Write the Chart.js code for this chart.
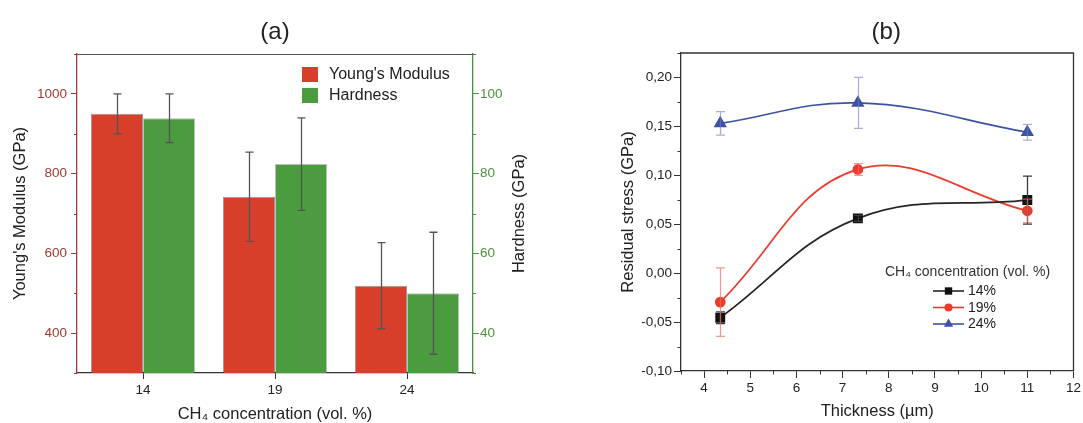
<!DOCTYPE html>
<html>
<head>
<meta charset="utf-8">
<script src="https://cdn.jsdelivr.net/npm/chart.js@4.4.1/dist/chart.umd.min.js"></script>
<style>
  html, body { margin: 0; padding: 0; background: #fff; }
  #wrap { position: relative; width: 1083px; height: 423px; overflow: hidden; }
  #ca { position: absolute; left: 0; top: 0; }
  #cb { position: absolute; left: 560px; top: 0; }
</style>
</head>
<body>
<div id="wrap">
  <canvas id="ca" width="545" height="423"></canvas>
  <canvas id="cb" width="523" height="423"></canvas>
</div>
<script>
// ---- panel (a): mechanical properties vs CH4 concentration
const concLabels = ['14', '19', '24'];
const youngs = [950, 742, 519];
const youngsErr = [50, 112, 108];
const hardness = [93.9, 82.4, 50.0];
const hardnessErr = [6.1, 11.6, 15.3];

// ---- panel (b): residual stress vs thickness
const thickness = [4.35, 7.33, 11.0];
const stress14 = [-0.0455, 0.056, 0.0747];
const stress14Err = [0.006, 0.003, 0.0245];
const stress19 = [-0.0296, 0.106, 0.0637];
const stress19Err = [0.035, 0.006, 0.012];
const stress24 = [0.153, 0.174, 0.144];
const stress24Err = [0.012, 0.026, 0.008];

const FONT = "'Liberation Sans', Arial, sans-serif";
Chart.defaults.font.family = FONT;

const RED = '#d83f2b', GREEN = '#4a9c3e';
const AXIS_RED = '#a23b33', AXIS_GREEN = '#4f8e3f';

// error bars drawn on top of bars / points
const errorBars = {
  id: 'errorBars',
  afterDatasetsDraw(chart) {
    const ctx = chart.ctx;
    chart.data.datasets.forEach((ds, i) => {
      if (!ds.errors) return;
      const meta = chart.getDatasetMeta(i);
      const ys = chart.scales[meta.yAxisID];
      ctx.save();
      ctx.strokeStyle = ds.errorColor;
      ctx.lineWidth = ds.errorWidth || 1.3;
      meta.data.forEach((el, j) => {
        const d = ds.data[j];
        const v = typeof d === 'object' ? d.y : d;
        const top = ys.getPixelForValue(v + ds.errors[j]);
        const bot = ys.getPixelForValue(v - ds.errors[j]);
        const x = Math.round(el.x) + 0.5;
        const c = ds.capWidth / 2;
        ctx.beginPath();
        ctx.moveTo(x, top); ctx.lineTo(x, bot);
        ctx.moveTo(x - c, top); ctx.lineTo(x + c, top);
        ctx.moveTo(x - c, bot); ctx.lineTo(x + c, bot);
        ctx.stroke();
      });
      ctx.restore();
    });
  }
};

function drawMinorTicks(chart, id, isMajor, len, color) {
  const s = chart.scales[id];
  const a = chart.chartArea;
  const ctx = chart.ctx;
  ctx.save();
  ctx.strokeStyle = color;
  ctx.lineWidth = 1;
  ctx.beginPath();
  s.ticks.forEach(t => {
    if (isMajor(t.value)) return;
    const p = Math.round(s.getPixelForValue(t.value)) + 0.5;
    if (s.position === 'left') { ctx.moveTo(a.left - len, p); ctx.lineTo(a.left, p); }
    else if (s.position === 'right') { ctx.moveTo(a.right, p); ctx.lineTo(a.right + len, p); }
    else { ctx.moveTo(p, a.bottom); ctx.lineTo(p, a.bottom + len); }
  });
  ctx.stroke();
  ctx.restore();
}

const majA = v => v % 200 === 0;
const majA2 = v => v % 20 === 0;
const majBy = v => Math.round(v * 1000) % 50 === 0;
const majBx = v => Math.abs(v - Math.round(v)) < 1e-6;

// ---------- chart (a)
const panelA = {
  id: 'panelA',
  afterDraw(chart) {
    const ctx = chart.ctx, a = chart.chartArea;
    ctx.save();
    // top frame line
    ctx.strokeStyle = '#555'; ctx.lineWidth = 1;
    ctx.beginPath(); ctx.moveTo(a.left, a.top + 0.5); ctx.lineTo(a.right, a.top + 0.5); ctx.stroke();
    drawMinorTicks(chart, 'y', majA, 3, AXIS_RED);
    drawMinorTicks(chart, 'y2', majA2, 3, AXIS_GREEN);
    // panel label
    ctx.fillStyle = '#222';
    ctx.font = '24px ' + FONT;
    ctx.textAlign = 'center'; ctx.textBaseline = 'middle';
    ctx.fillText('(a)', (a.left + a.right) / 2, 32);
    // right axis title, reading bottom to top
    ctx.save();
    ctx.translate(a.right + 46, (a.top + a.bottom) / 2);
    ctx.rotate(-Math.PI / 2);
    ctx.font = '16.5px ' + FONT;
    ctx.fillText('Hardness (GPa)', 0, 0);
    ctx.restore();
    // legend
    const lx = a.left + 225, ly = a.top + 13;
    ctx.font = '16px ' + FONT;
    ctx.textAlign = 'left';
    chart.data.datasets.forEach((ds, i) => {
      const y = ly + i * 21;
      ctx.fillStyle = ds.backgroundColor;
      ctx.fillRect(lx, y, 16, 15);
      ctx.fillStyle = '#222';
      ctx.fillText(ds.label, lx + 27, y + 8);
    });
    ctx.restore();
  }
};

new Chart(document.getElementById('ca'), {
  type: 'bar',
  data: {
    labels: concLabels,
    datasets: [
      { label: "Young's Modulus", data: youngs, errors: youngsErr, errorColor: '#555', capWidth: 8,
        yAxisID: 'y', backgroundColor: RED, borderColor: 'rgba(70,70,70,0.55)', borderWidth: 1,
        categoryPercentage: 0.79, barPercentage: 1 },
      { label: 'Hardness', data: hardness, errors: hardnessErr, errorColor: '#555', capWidth: 8,
        yAxisID: 'y2', backgroundColor: GREEN, borderColor: 'rgba(70,70,70,0.35)', borderWidth: 1,
        categoryPercentage: 0.79, barPercentage: 1 }
    ]
  },
  options: {
    responsive: false,
    animation: false,
    layout: { padding: { top: 54, left: 0, right: 0, bottom: 0 } },
    plugins: { legend: { display: false }, tooltip: { enabled: false } },
    scales: {
      x: {
        offset: true,
        grid: { offset: false, drawOnChartArea: false, tickLength: 6, tickColor: '#333' },
        border: { color: '#333', width: 1.3 },
        ticks: { color: '#222', font: { size: 13.5 }, padding: 3 },
        title: { display: true, text: 'CH\u2084 concentration (vol. %)', color: '#222',
                 font: { size: 16.5, lineHeight: 1 }, padding: { top: 0, bottom: 0 } },
        afterFit: s => { s.height = 50; }
      },
      y: {
        position: 'left', min: 300, max: 1100,
        grid: { drawOnChartArea: false, tickLength: 6,
                tickColor: c => majA(c.tick.value) ? AXIS_RED : 'rgba(0,0,0,0)' },
        border: { color: AXIS_RED, width: 1.3 },
        ticks: { stepSize: 100, autoSkip: false, color: AXIS_RED, font: { size: 13.5 }, padding: 4,
                 callback: v => majA(v) ? String(v) : '' },
        title: { display: true, text: "Young's Modulus (GPa)", color: '#222',
                 font: { size: 16.5, lineHeight: 1 }, padding: { top: 12, bottom: 0 } },
        afterFit: s => { s.width = 77; }
      },
      y2: {
        position: 'right', min: 30, max: 110,
        grid: { drawOnChartArea: false, tickLength: 6,
                tickColor: c => majA2(c.tick.value) ? AXIS_GREEN : 'rgba(0,0,0,0)' },
        border: { color: AXIS_GREEN, width: 1.3 },
        ticks: { stepSize: 10, autoSkip: false, color: AXIS_GREEN, font: { size: 13.5 }, padding: 1,
                 callback: v => majA2(v) ? String(v) : '' },
        afterFit: s => { s.width = 72; }
      }
    }
  },
  plugins: [errorBars, panelA]
});

// ---------- chart (b)
const markerDraw = (ctx, style, x, y, r) => {
  ctx.beginPath();
  if (style === 'rect') {
    const h = r * Math.SQRT1_2;
    ctx.rect(x - h, y - h, 2 * h, 2 * h);
  } else if (style === 'circle') {
    ctx.arc(x, y, r, 0, Math.PI * 2);
  } else {
    for (let k = 0; k < 3; k++) {
      const ang = k * 2 * Math.PI / 3;
      const px = x + Math.sin(ang) * r, py = y - Math.cos(ang) * r;
      k ? ctx.lineTo(px, py) : ctx.moveTo(px, py);
    }
    ctx.closePath();
  }
  ctx.fill();
};

const panelB = {
  id: 'panelB',
  afterDraw(chart) {
    const ctx = chart.ctx, a = chart.chartArea;
    ctx.save();
    ctx.strokeStyle = '#333'; ctx.lineWidth = 1.3;
    ctx.beginPath();
    ctx.moveTo(a.left, a.top); ctx.lineTo(a.right, a.top); ctx.lineTo(a.right, a.bottom);
    ctx.stroke();
    drawMinorTicks(chart, 'y', majBy, 3.5, '#333');
    drawMinorTicks(chart, 'x', majBx, 3.5, '#333');
    ctx.fillStyle = '#222';
    ctx.font = '24px ' + FONT;
    ctx.textAlign = 'center'; ctx.textBaseline = 'middle';
    ctx.fillText('(b)', (a.left + a.right) / 2 + 9, 32);
    // legend
    ctx.textAlign = 'left';
    ctx.font = '14px ' + FONT;
    ctx.fillStyle = '#333';
    ctx.fillText('CH\u2084 concentration (vol. %)', a.left + 204, 272);
    chart.data.datasets.forEach((ds, i) => {
      const y = 291 + i * 16.5;
      const x0 = a.left + 252;
      ctx.strokeStyle = ds.borderColor; ctx.lineWidth = 1.6;
      ctx.beginPath(); ctx.moveTo(x0, y); ctx.lineTo(x0 + 31, y); ctx.stroke();
      ctx.fillStyle = ds.pointBackgroundColor;
      markerDraw(ctx, ds.pointStyle, x0 + 15.5, y, ds.pointRadius * 0.9);
      ctx.fillStyle = '#222';
      ctx.fillText(ds.label, x0 + 35, y + 0.5);
    });
    ctx.restore();
  }
};

const pts = ys => thickness.map((x, i) => ({ x, y: ys[i] }));

new Chart(document.getElementById('cb'), {
  type: 'line',
  data: {
    datasets: [
      { label: '14%', data: pts(stress14), errors: stress14Err, errorColor: '#3a3a3a', capWidth: 9,
        borderColor: '#262626', pointBackgroundColor: '#111', pointBorderColor: '#111',
        pointStyle: 'rect', pointRadius: 5.8, borderWidth: 1.7, tension: 0.4 },
      { label: '19%', data: pts(stress19), errors: stress19Err, errorColor: 'rgba(238,110,100,0.7)', capWidth: 9,
        borderColor: '#ec3b2c', pointBackgroundColor: '#ec3b2c', pointBorderColor: '#ec3b2c',
        pointStyle: 'circle', pointRadius: 4.5, borderWidth: 1.7, tension: 0.4 },
      { label: '24%', data: pts(stress24), errors: stress24Err, errorColor: 'rgba(120,120,185,0.6)', capWidth: 9,
        borderColor: '#3c53a4', pointBackgroundColor: '#3c53a4', pointBorderColor: '#3c53a4',
        pointStyle: 'triangle', pointRadius: 6, borderWidth: 1.7, tension: 0.4 }
    ]
  },
  options: {
    responsive: false,
    animation: false,
    layout: { padding: { top: 53, left: 0, right: 7, bottom: 0 } },
    plugins: { legend: { display: false }, tooltip: { enabled: false } },
    scales: {
      x: {
        type: 'linear', min: 3.5, max: 12,
        grid: { drawOnChartArea: false, tickLength: 7,
                tickColor: c => majBx(c.tick.value) ? '#333' : 'rgba(0,0,0,0)' },
        border: { color: '#333', width: 1.3 },
        ticks: { stepSize: 0.5, autoSkip: false, maxRotation: 0, color: '#222', font: { size: 13.5 }, padding: 2,
                 callback: v => majBx(v) ? String(Math.round(v)) : '' },
        title: { display: true, text: 'Thickness (\u00b5m)', color: '#222',
                 font: { size: 16.5, lineHeight: 1 }, padding: { top: 0, bottom: 3 } },
        afterFit: s => { s.height = 52; }
      },
      y: {
        min: -0.1, max: 0.225,
        grid: { drawOnChartArea: false, tickLength: 7,
                tickColor: c => majBy(c.tick.value) ? '#333' : 'rgba(0,0,0,0)' },
        border: { color: '#333', width: 1.3 },
        ticks: { stepSize: 0.025, autoSkip: false, color: '#222', font: { size: 13.5 }, padding: 2,
                 callback: v => majBy(v) ? v.toFixed(2).replace('.', ',') : '' },
        title: { display: true, text: 'Residual stress (GPa)', color: '#222',
                 font: { size: 16.5, lineHeight: 1 }, padding: { top: 60, bottom: 0 } },
        afterFit: s => { s.width = 121; }
      }
    }
  },
  plugins: [errorBars, panelB]
});
</script>
</body>
</html>
